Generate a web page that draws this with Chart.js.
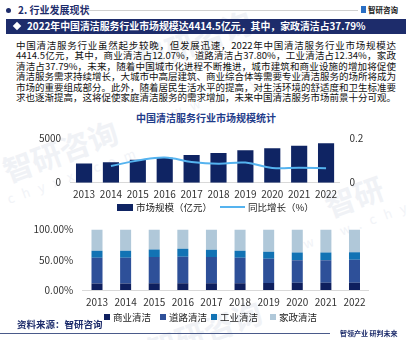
<!DOCTYPE html>
<html>
<head>
<meta charset="utf-8">
<script src="https://cdn.jsdelivr.net/npm/chart.js@4.4.0/dist/chart.umd.min.js"></script>
<style>
  body { margin: 0; width: 412px; height: 340px; background: #fff; position: relative; overflow: hidden;
         font-family: "Noto Sans CJK SC", "Noto Sans", sans-serif; color: #1a1a1a; }
  .abs { position: absolute; }
  .wm { position: absolute; color: #f0f2f6; font-weight: bold; white-space: nowrap; transform: rotate(-20deg); transform-origin: left top; }
  .wm2 { position: absolute; color: #f1f3f7; font-size: 13px; letter-spacing: 9px; white-space: nowrap; transform: rotate(-20deg); transform-origin: left top; }
  #head { left: 18px; top: 3px; font-size: 10px; font-weight: bold; color: #1d2c6b; line-height: 14px; }
  #dot { left: 6px; top: 8px; width: 5px; height: 5px; border-radius: 50%; background: #1d2c6b; }
  #headLine { left: 86px; top: 10px; width: 272px; height: 1px; background: #d0d0d0; }
  #logo { left: 368px; top: 4px; font-size: 7.5px; font-weight: bold; color: #222; line-height: 12px; }
  #logoIcon { left: 361px; top: 6px; width: 5px; height: 7px; background: #2a6fc4; }
  #banner { left: 6px; top: 19px; width: 400px; height: 15px; background: #1d2c6b; }
  #bannerText { left: 27px; top: 19px; font-size: 9.9px; font-weight: bold; color: #fff; line-height: 15px; white-space: nowrap; }
  #diamond { left: 14px; top: 23px; width: 6px; height: 6px; background: #fff; transform: rotate(45deg); }
  .pline { position: absolute; left: 16px; width: 380px; font-size: 9.5px; line-height: 11px; text-align: justify; text-align-last: justify; white-space: nowrap; color: #111; }
  #title1 { left: 0; width: 412px; top: 111px; text-align: center; font-size: 10px; font-weight: bold; color: #1f3c8a; line-height: 14px; }
  .leg { position: absolute; font-size: 9.5px; line-height: 12px; color: #222; white-space: nowrap; }
  .sw { position: absolute; }
  #source { left: 17px; top: 318px; font-size: 9.5px; font-weight: bold; color: #1d2c6b; line-height: 13px; }
  #footLine { left: 0; top: 333px; width: 330px; height: 1px; background: #4a5a8a; }
  #slogan { left: 340px; top: 328px; font-size: 7px; font-weight: bold; color: #1d2c6b; line-height: 10px; }
</style>
</head>
<body>
<div class="wm" style="left:-4px;top:150px;font-size:30px;">智研咨询</div>
<div class="wm2" style="left:4px;top:190px;">chyxx.com</div>
<div class="wm" style="left:130px;top:40px;font-size:30px;">智研咨询</div>
<div class="wm2" style="left:150px;top:110px;">www.chyxx.com</div>
<div class="wm" style="left:318px;top:185px;font-size:30px;">智研</div>
<div class="wm2" style="left:300px;top:235px;">www.chyxx</div>
<div class="wm" style="left:140px;top:330px;font-size:30px;">智研咨询</div>

<div class="abs" id="dot"></div>
<div class="abs" id="head">2. 行业发展现状</div>
<div class="abs" id="headLine"></div>
<div class="abs" id="logoIcon"></div>
<div class="abs" id="logo">智研咨询</div>
<div class="abs" id="banner"></div>
<div class="abs" id="diamond"></div>
<div class="abs" id="bannerText">2022年中国清洁服务行业市场规模达4414.5亿元，其中，家政清洁占37.79%</div>

<div id="para"></div>

<div class="abs" id="title1">中国清洁服务行业市场规模统计</div>
<div class="abs" style="left:0;top:122px;width:412px;height:83px;"><canvas id="chart1"></canvas></div>
<div id="legend1"></div>
<div class="abs" style="left:0;top:214px;width:412px;height:98px;"><canvas id="chart2"></canvas></div>
<div id="legend2"></div>

<div class="abs" id="source">资料来源：智研咨询</div>
<div class="abs" id="footLine"></div>
<div class="abs" id="slogan">智领产业 研判未来</div>

<script>
// 年份
const years = ['2013', '2014', '2015', '2016', '2017', '2018', '2019', '2020', '2021', '2022'];

// 图1：市场规模（亿元）和同比增长
const marketSize = [2150, 2300, 2570, 2790, 3100, 3310, 3620, 3860, 4140, 4414.5];
const growthRate = [null, 0.075, 0.099, 0.113, 0.093, 0.085, 0.090, 0.066, 0.067, 0.065];
const sizeTicks = [0, 5000];
const rateTicks = [0, 0.2];
const chart1Names = ['市场规模（亿元）', '同比增长（%）'];

// 图2：各类清洁占比（%）
const commercial = [10.8, 10.9, 11.0, 11.0, 11.1, 11.2, 11.4, 12.0, 12.1, 12.07];
const road = [42.4, 42.3, 43.7, 44.1, 43.6, 42.0, 40.3, 37.2, 37.1, 37.80];
const industrial = [11.8, 11.8, 12.2, 12.9, 11.8, 11.8, 11.4, 12.8, 12.8, 12.34];
const household = [35.0, 35.0, 33.1, 32.0, 33.5, 35.0, 36.9, 38.0, 38.0, 37.79];
const shareTicks = [0, 50, 100];
const chart2Names = ['商业清洁', '道路清洁', '工业清洁', '家政清洁'];

const paragraph = [
    '中国清洁服务行业虽然起步较晚，但发展迅速，2022年中国清洁服务行业市场规模达',
    '4414.5亿元，其中，商业清洁占12.07%，道路清洁占37.80%，工业清洁占12.34%，家政',
    '清洁占37.79%，未来，随着中国城市化进程不断推进，城市建筑和商业设施的增加将促使',
    '清洁服务需求持续增长，大城市中高层建筑、商业综合体等需要专业清洁服务的场所将成为',
    '市场的重要组成部分。此外，随着居民生活水平的提高，对生活环境的舒适度和卫生标准要',
    '求也逐渐提高，这将促使家庭清洁服务的需求增加，未来中国清洁服务市场前景十分可观。'
];

const navy = '#0f2463';
const lineBlue = '#55b3ef';
const stackColors = ['#0e1f5e', '#2e5099', '#1273b4', '#b0c8d9'];
const tickFont = { family: '"Noto Sans CJK SC", sans-serif', size: 10 };

// 段落
const para = document.getElementById('para');
paragraph.forEach((txt, i) => {
    const d = document.createElement('div');
    d.className = 'pline';
    d.style.top = (40 + i * 10.4) + 'px';
    d.textContent = txt;
    para.appendChild(d);
});

Chart.defaults.font.family = '"Noto Sans CJK SC", sans-serif';
Chart.defaults.color = '#333';

const ctx1 = document.getElementById('chart1').getContext('2d');
const chart1 = new Chart(ctx1, {
    data: {
        labels: years,
        datasets: [
            {
                type: 'line',
                label: chart1Names[1],
                data: growthRate,
                yAxisID: 'y1',
                borderColor: lineBlue,
                borderWidth: 2,
                pointRadius: 0,
                tension: 0.4,
                order: 0
            },
            {
                type: 'bar',
                label: chart1Names[0],
                data: marketSize,
                yAxisID: 'y',
                backgroundColor: navy,
                categoryPercentage: 1,
                barPercentage: 0.6,
                order: 1
            }
        ]
    },
    options: {
        responsive: true,
        maintainAspectRatio: false,
        animation: false,
        layout: { padding: { left: 30, right: 40, top: 6.3, bottom: 0 } },
        plugins: { legend: { display: false }, tooltip: { enabled: false } },
        scales: {
            x: {
                grid: { display: false, drawTicks: false },
                border: { color: '#d9d9d9' },
                ticks: { font: tickFont, color: '#333', padding: 6, maxRotation: 0, minRotation: 0, autoSkip: false },
                afterFit: s => { s.height = 22.3; }
            },
            y: {
                position: 'left',
                min: 0, max: 5000,
                grid: { display: false, drawTicks: false },
                border: { display: false },
                ticks: { font: tickFont, color: '#333', padding: 9.5, callback: v => String(v) },
                afterBuildTicks: s => { s.ticks = sizeTicks.map(v => ({ value: v })); },
                afterFit: s => { s.width = 40.6; }
            },
            y1: {
                position: 'right',
                min: 0, max: 0.2,
                grid: { display: false, drawTicks: false },
                border: { display: false },
                ticks: { font: tickFont, color: '#333', padding: 10, callback: v => String(v) },
                afterBuildTicks: s => { s.ticks = rateTicks.map(v => ({ value: v })); },
                afterFit: s => { s.width = 32.5; }
            }
        }
    }
});

const ctx2 = document.getElementById('chart2').getContext('2d');
const chart2 = new Chart(ctx2, {
    type: 'bar',
    data: {
        labels: years,
        datasets: [commercial, road, industrial, household].map((arr, i) => ({
            label: chart2Names[i],
            data: arr,
            backgroundColor: stackColors[i],
            categoryPercentage: 1,
            barPercentage: 0.385
        }))
    },
    options: {
        responsive: true,
        maintainAspectRatio: false,
        animation: false,
        layout: { padding: { left: 20, right: 43.2, top: 8.3, bottom: 0 } },
        plugins: { legend: { display: false }, tooltip: { enabled: false } },
        scales: {
            x: {
                stacked: true,
                grid: { display: false, drawTicks: false },
                border: { color: '#d9d9d9' },
                ticks: { font: tickFont, color: '#333', padding: 6, maxRotation: 0, minRotation: 0, autoSkip: false },
                afterFit: s => { s.height = 22; }
            },
            y: {
                stacked: true,
                min: 0, max: 100,
                grid: { display: false, drawTicks: false },
                border: { display: false },
                ticks: { font: tickFont, color: '#333', padding: 9.5, callback: v => v.toFixed(2) + '%' },
                afterBuildTicks: s => { s.ticks = shareTicks.map(v => ({ value: v })); },
                afterFit: s => { s.width = 62.7; }
            }
        }
    }
});

// 图例
function addLegend(hostId, items, top) {
    const host = document.getElementById(hostId);
    items.forEach(it => {
        const sw = document.createElement('div');
        sw.className = 'sw';
        sw.style.left = it.x + 'px';
        sw.style.top = (top - it.h / 2) + 'px';
        sw.style.width = it.w + 'px';
        sw.style.height = it.h + 'px';
        sw.style.background = it.color;
        host.appendChild(sw);
        const t = document.createElement('div');
        t.className = 'leg';
        t.style.left = (it.x + it.w + 3) + 'px';
        t.style.top = (top - 6.5) + 'px';
        t.textContent = it.text;
        host.appendChild(t);
    });
}
addLegend('legend1', [
    { x: 117, w: 16, h: 7, color: navy, text: chart1Names[0] },
    { x: 220, w: 25, h: 2, color: lineBlue, text: chart1Names[1] }
], 207);
const leg2X = [104, 160, 211, 270];
addLegend('legend2', chart2Names.map((n, i) => (
    { x: leg2X[i], w: 6, h: 6, color: stackColors[i], text: n }
)), 317);
</script>
</body>
</html>
